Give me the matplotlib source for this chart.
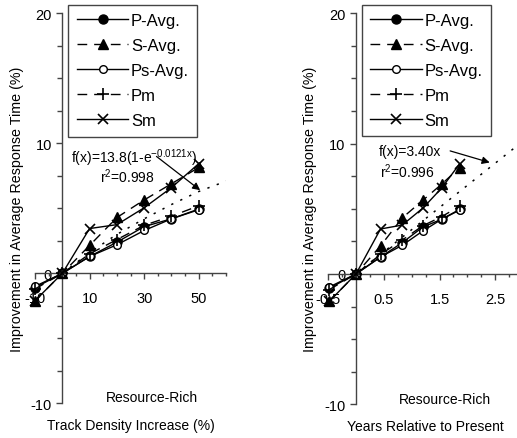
import matplotlib
matplotlib.use("Agg")
import matplotlib.pyplot as plt
from matplotlib.ticker import MultipleLocator, FixedLocator

plt.rcParams['font.family'] = ['Liberation Sans', 'DejaVu Sans']
plt.rcParams['mathtext.fontset'] = 'custom'
plt.rcParams['mathtext.rm'] = 'Liberation Sans'
plt.rcParams['mathtext.it'] = 'Liberation Sans'
plt.rcParams['axes.unicode_minus'] = False

# data
x_density = [-10, 0, 10, 20, 30, 40, 50]
x_years = [-0.48, 0, 0.44, 0.83, 1.2, 1.54, 1.86]
p_avg = [-1.1, 0, 1.3, 2.4, 3.6, 4.2, 4.95]
s_avg = [-2.1, 0, 2.15, 4.3, 5.65, 6.9, 8.15]
ps_avg = [-1.0, 0, 1.3, 2.2, 3.3, 4.2, 4.9]
pm = [-1.2, 0, 1.5, 2.6, 3.7, 4.4, 5.2]
sm = [-2.1, 0, 3.45, 3.75, 5.05, 6.6, 8.45]

fit_density_x = [0, 10, 20, 30, 40, 50, 60]
fit_density_y = [0, 1.6, 3.0, 4.2, 5.3, 6.3, 7.1]
fit_years_x = [0, 1, 2, 3]
fit_years_y = [0, 3.4, 6.8, 10.2]

labels = ["P-Avg.", "S-Avg.", "Ps-Avg.", "Pm", "Sm"]
series = [p_avg, s_avg, ps_avg, pm, sm]
styles = [
    dict(ls="-", marker="o", ms=6.5, mfc="k"),
    dict(ls=(0, (7, 5)), marker="^", ms=6.5, mfc="k"),
    dict(ls="-", marker="o", ms=5.5, mfc="white"),
    dict(ls=(0, (7, 5)), marker="+", ms=8, mew=1.2),
    dict(ls="-", marker="x", ms=7, mew=1.2),
]

AX_COLOR = "#444444"


def setup_axes(ax, xlim, major_x, minor_x, xlabel, ylab_x):
    ax.set_xlim(*xlim)
    ax.set_ylim(-10, 20)
    for s in ("top", "right"):
        ax.spines[s].set_visible(False)
    ax.spines["left"].set_position(("data", 0))
    ax.spines["bottom"].set_position(("data", 0))
    for s in ("left", "bottom"):
        ax.spines[s].set_color(AX_COLOR)
        ax.spines[s].set_linewidth(1.0)
    ax.xaxis.set_major_locator(FixedLocator(major_x))
    ax.xaxis.set_minor_locator(MultipleLocator(minor_x))
    ax.yaxis.set_major_locator(FixedLocator([-10, 0, 10, 20]))
    ax.yaxis.set_minor_locator(MultipleLocator(2.5))
    ax.tick_params(axis="both", which="both", direction="out",
                   color=AX_COLOR, width=1.0, labelsize=10.5)
    ax.tick_params(axis="y", which="major", length=4)
    ax.tick_params(axis="y", which="minor", length=3.5)
    ax.tick_params(axis="x", which="major", length=4, pad=9)
    ax.tick_params(axis="x", which="minor", length=2.5)
    ax.set_ylabel("Improvement in Average Response Time (%)", fontsize=10.3)
    ax.yaxis.set_label_coords(ylab_x, 0.5)
    ax.set_xlabel(xlabel, fontsize=10)
    ax.xaxis.set_label_coords(0.5, -0.055)
    ax.xaxis.label.set_va("center")


def draw_series(ax, xs):
    for lab, ys, st in zip(labels, series, styles):
        ax.plot(xs, ys, color="k", lw=1.0, mec="k", clip_on=False,
                label=lab, zorder=3, **st)


fig = plt.figure(figsize=(5.17, 4.39), dpi=100)
ax1 = fig.add_axes([0.0677, 0.079, 0.3696, 0.888])
ax2 = fig.add_axes([0.6348, 0.0768, 0.377, 0.8907])

# left: track density
setup_axes(ax1, (-10, 60), [-10, 10, 30, 50], 5,
           "Track Density Increase (%)", -0.055)
ax1.set_xticklabels(["-10", "10", "30", "50"])
draw_series(ax1, x_density)
ax1.plot(fit_density_x, fit_density_y, color="k", lw=1.1,
         ls=(0, (1.5, 5)), zorder=2)
ax1.text(26.2, 8.95, "f(x)=13.8(1-e$^{\\mathregular{-0.0121x}}$)",
         ha="center", va="center", fontsize=10)
ax1.text(24, 7.5, "r$^{\\mathregular{2}}$=0.998", ha="center", va="center",
         fontsize=10)
ax1.annotate("", xy=(50.5, 6.4), xytext=(34.5, 9.0),
             arrowprops=dict(arrowstyle="-|>", color="k", lw=0.9,
                             mutation_scale=11, shrinkA=0, shrinkB=0))
ax1.text(32.7, -9.5, "Resource-Rich", ha="center", va="center", fontsize=10)

# right: years
setup_axes(ax2, (-0.5, 3.0), [-0.5, 0.5, 1.5, 2.5], 0.25,
           "Years Relative to Present", -0.057)
ax2.set_xticklabels(["-0.5", "0.5", "1.5", "2.5"])
draw_series(ax2, x_years)
ax2.plot(fit_years_x, fit_years_y, color="k", lw=1.1,
         ls=(0, (1.5, 5)), zorder=2)
ax2.text(0.97, 9.45, "f(x)=3.40x", ha="center", va="center", fontsize=10)
ax2.text(0.92, 7.9, "r$^{\\mathregular{2}}$=0.996", ha="center", va="center",
         fontsize=10)
ax2.annotate("", xy=(2.40, 8.55), xytext=(1.69, 9.44),
             arrowprops=dict(arrowstyle="-|>", color="k", lw=0.9,
                             mutation_scale=11, shrinkA=0, shrinkB=0))
ax2.text(1.6, -9.6, "Resource-Rich", ha="center", va="center", fontsize=10)

for ax, x0 in ((ax1, 0.175), (ax2, 0.172)):
    leg = ax.legend(loc="upper left", bbox_to_anchor=(x0, 1.022),
                    borderaxespad=0, fontsize=12, handlelength=3.1,
                    labelspacing=0.6, handletextpad=0.15, borderpad=0.5,
                    fancybox=False, framealpha=1, numpoints=1)
    leg.get_frame().set_edgecolor(AX_COLOR)
    leg.get_frame().set_linewidth(1.0)

fig.savefig("out.png", dpi=100)
